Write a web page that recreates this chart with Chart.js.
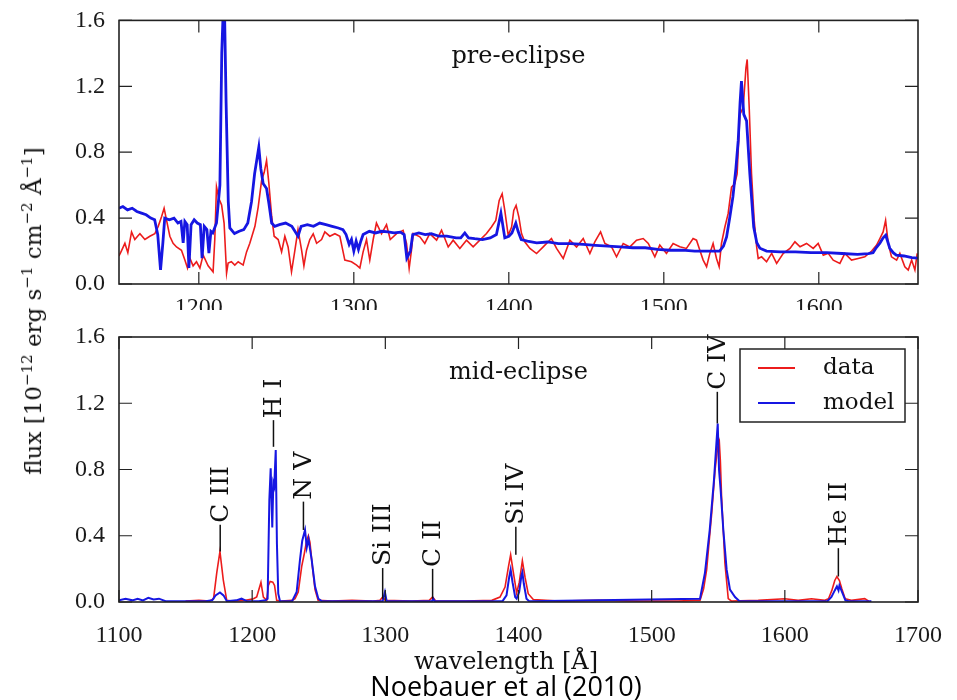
<!DOCTYPE html>
<html>
<head>
<meta charset="utf-8">
<script src="https://cdn.jsdelivr.net/npm/chart.js@4.4.1/dist/chart.umd.min.js"></script>
<style>
  body { margin: 0; background: #fff; }
  #wrap { position: relative; width: 957px; height: 700px; overflow: hidden; background: #fff; }
  canvas { position: absolute; left: 0; }
  .ylab { position: absolute; left: 33px; top: 311px; transform: translate(-50%, -50%) rotate(-90deg);
          white-space: nowrap; font: 23px "DejaVu Serif"; color: #111; }
  .ylab sup { font-size: 15px; vertical-align: 9px; line-height: 0; }
  .xlab { position: absolute; left: 506px; top: 661px; transform: translate(-50%, -50%);
          white-space: nowrap; font: 24px "DejaVu Serif"; color: #111; }
  .cap { position: absolute; left: 506px; top: 685px; transform: translate(-50%, -50%);
         white-space: nowrap; font: 27px "Open Sans"; color: #000; }
</style>
</head>
<body>
<div id="wrap">
  <canvas id="pre" width="957" height="310" style="top:0"></canvas>
  <canvas id="mid" width="957" height="390" style="top:310px"></canvas>
  <div class="ylab">flux [10<sup>−12</sup> erg s<sup>−1</sup> cm<sup>−2</sup> Å<sup>−1</sup>]</div>
  <div class="xlab">wavelength [Å]</div>
  <div class="cap">Noebauer et al (2010)</div>
</div>
<script>
// tick values
const preTicks = [1200, 1300, 1400, 1500, 1600];
const midTicks = [1100, 1200, 1300, 1400, 1500, 1600, 1700];
const fluxTicks = [0, 0.4, 0.8, 1.2, 1.6];

// pre-eclipse: observed spectrum
const preDataWave = [1148.5,1150,1152.3,1154.2,1156.6,1158.7,1160.5,1162,1165.2,1168.4,1171.6,1173.8,1176,1177.6,1179.2,1181.3,1183.4,1185.6,1188.8,1191,1192.7,1194.2,1196.3,1198.5,1200.7,1202.8,1206,1209.2,1210.3,1211.4,1212.9,1214.7,1216.3,1217.9,1218.9,1221,1223.2,1225.4,1228.6,1230.8,1232.9,1236.2,1238.3,1240.5,1242.2,1243.7,1245.2,1247,1248.6,1251.2,1253.4,1255.5,1257.6,1259.8,1262,1264,1266.3,1267.8,1269.5,1271.6,1273.8,1276,1279.2,1281.3,1284.5,1287.8,1291,1294.2,1298.5,1301.8,1303.9,1306,1308.2,1310.3,1312.5,1314.6,1317.9,1321.1,1323.5,1327.6,1331.8,1334,1335.7,1337.2,1338.3,1342.6,1345.8,1349,1353.4,1356.6,1360.9,1364.1,1368.4,1372.7,1377,1381.3,1385.6,1388.8,1391.6,1393.8,1395.7,1397.4,1399.6,1401.8,1403.2,1404.7,1406.5,1408.2,1410.3,1413.6,1417.9,1422.2,1427.5,1430.8,1435.1,1439.4,1443.7,1448,1452.3,1455.5,1459.2,1462,1466.3,1469.5,1473.8,1478.1,1482.4,1486.7,1490,1494.2,1497.4,1501.7,1506,1510.3,1514.6,1518.9,1521.1,1523.2,1525.4,1527.6,1529.7,1531.8,1534,1535.7,1537.2,1539.4,1541.5,1543.7,1545.8,1547.3,1549.1,1551.2,1553,1553.8,1555.1,1556.6,1558.3,1559.9,1560.9,1563.1,1566.3,1569.6,1572.8,1577.1,1581.4,1584.6,1587.9,1592.1,1596.4,1599.6,1602.9,1606.1,1609.3,1613.6,1616.8,1621.1,1625.4,1629.7,1634.1,1637.3,1639.4,1641.5,1643.1,1644.8,1646.9,1650.2,1652.3,1655.5,1657.7,1659.9,1662,1663.5];
const preDataFlux = [0.17,0.2,0.247,0.19,0.316,0.27,0.29,0.305,0.27,0.29,0.305,0.35,0.41,0.46,0.386,0.29,0.247,0.225,0.205,0.145,0.097,0.157,0.11,0.135,0.097,0.175,0.11,0.074,0.27,0.59,0.52,0.48,0.37,0.066,0.127,0.135,0.115,0.135,0.115,0.195,0.247,0.35,0.467,0.628,0.678,0.75,0.61,0.41,0.29,0.27,0.195,0.29,0.225,0.074,0.205,0.33,0.205,0.11,0.205,0.27,0.305,0.247,0.27,0.316,0.29,0.305,0.29,0.145,0.135,0.115,0.097,0.195,0.27,0.145,0.27,0.37,0.305,0.36,0.27,0.306,0.326,0.246,0.095,0.206,0.306,0.286,0.246,0.306,0.266,0.326,0.225,0.266,0.216,0.266,0.225,0.266,0.306,0.346,0.386,0.507,0.548,0.447,0.296,0.346,0.447,0.477,0.406,0.306,0.256,0.216,0.185,0.225,0.276,0.216,0.155,0.266,0.225,0.276,0.185,0.256,0.316,0.246,0.225,0.165,0.246,0.225,0.266,0.276,0.246,0.165,0.236,0.186,0.246,0.226,0.216,0.276,0.266,0.206,0.145,0.105,0.186,0.246,0.155,0.105,0.246,0.346,0.427,0.588,0.608,0.668,1.03,1.07,1.312,1.363,1.07,0.668,0.386,0.226,0.155,0.165,0.135,0.186,0.125,0.186,0.216,0.256,0.226,0.246,0.216,0.246,0.175,0.186,0.145,0.125,0.186,0.145,0.155,0.165,0.2,0.236,0.276,0.316,0.386,0.246,0.165,0.145,0.186,0.105,0.085,0.145,0.085,0.186];

// pre-eclipse: model spectrum
const preModelWave = [1148.5,1151,1154,1157,1160,1163,1166,1169,1171.5,1173.5,1175.3,1176.8,1178,1181,1184,1186.5,1188.5,1189.9,1191,1192.5,1193.6,1195,1197,1199,1201,1202.1,1203.5,1205.2,1206.5,1207.8,1209,1211.4,1213.6,1214.8,1215.7,1216.6,1217.6,1219,1220,1223,1226,1229,1231.6,1234,1236,1238.7,1240,1241.5,1243.7,1245.2,1247,1249,1252,1256,1260,1264,1266,1270,1274,1278,1282,1286,1290,1293,1295,1297,1298.5,1300,1301.5,1303,1304.5,1306,1310,1314,1318,1322,1326,1330,1332.5,1334.2,1336.5,1338,1342,1346,1350,1355,1360,1366,1369,1371.6,1374,1378,1383,1388,1392,1394.9,1397.4,1400,1402,1404.5,1406,1408,1412,1418,1425,1432,1440,1448,1456,1464,1472,1480,1488,1496,1504,1512,1520,1528,1536,1538.5,1540.5,1542.5,1544.6,1546.5,1548,1549.2,1550.1,1551.6,1553.4,1555.5,1558,1560,1562,1566.3,1575,1585,1595,1605,1615,1625,1632,1635,1637,1639.4,1641.5,1643.2,1645.8,1648,1650,1655,1660,1664];
const preModelFlux = [0.46,0.47,0.45,0.46,0.44,0.43,0.42,0.4,0.39,0.3,0.085,0.25,0.4,0.39,0.4,0.37,0.38,0.25,0.38,0.36,0.097,0.36,0.39,0.37,0.36,0.157,0.35,0.33,0.187,0.32,0.31,0.37,0.6,1.4,1.65,1.65,1.1,0.5,0.34,0.306,0.32,0.33,0.37,0.5,0.67,0.83,0.7,0.61,0.58,0.49,0.37,0.35,0.36,0.37,0.35,0.29,0.35,0.36,0.35,0.37,0.36,0.35,0.34,0.33,0.3,0.24,0.27,0.2,0.26,0.21,0.26,0.3,0.32,0.31,0.32,0.316,0.31,0.315,0.3,0.157,0.2,0.3,0.31,0.3,0.305,0.29,0.29,0.28,0.28,0.31,0.28,0.275,0.27,0.28,0.3,0.43,0.28,0.29,0.31,0.37,0.32,0.27,0.26,0.25,0.255,0.245,0.245,0.24,0.235,0.23,0.225,0.22,0.22,0.21,0.205,0.205,0.2,0.2,0.2,0.23,0.286,0.4,0.53,0.7,0.87,1.1,1.232,1.03,0.99,0.67,0.346,0.25,0.217,0.2,0.195,0.195,0.19,0.19,0.185,0.18,0.185,0.19,0.22,0.247,0.28,0.296,0.217,0.19,0.175,0.17,0.16,0.157];

// mid-eclipse: observed spectrum
const midDataWave = [1150,1160,1168,1171,1173.4,1175.8,1178.3,1180.9,1186,1195,1201,1203.4,1206.6,1208.4,1210.9,1212.2,1213.5,1215.5,1216.8,1218.4,1222,1230,1232.2,1234.6,1237.2,1239.1,1240.9,1242.2,1243.4,1245.2,1247.2,1249.5,1260,1275,1290,1296,1298,1300,1320,1333,1335.5,1338,1360,1380,1386.1,1389.9,1392.4,1394.1,1396.1,1398.6,1400.6,1402.9,1404.9,1407.3,1411.1,1430,1460,1490,1520,1533,1536.3,1539,1541.3,1543,1545.1,1547.6,1549.5,1550.8,1551.6,1552.5,1555,1557.5,1560,1580,1600,1610,1620,1630,1632.8,1635.3,1637.5,1639.1,1641,1642.8,1645.3,1650,1660,1663];
const midDataFlux = [0.005,0.01,0.005,0.02,0.176,0.305,0.134,0.01,0.005,0.01,0.02,0.03,0.118,0.03,0.01,0.1,0.124,0.12,0.1,0.01,0.005,0.01,0.02,0.06,0.215,0.29,0.37,0.4,0.36,0.215,0.075,0.01,0.005,0.01,0.005,0.01,0.03,0.01,0.005,0.01,0.03,0.005,0.005,0.01,0.03,0.09,0.21,0.285,0.18,0.054,0.12,0.249,0.15,0.05,0.015,0.005,0.01,0.005,0.005,0.01,0.01,0.08,0.195,0.35,0.536,0.797,0.93,0.967,0.85,0.636,0.236,0.02,0.005,0.01,0.02,0.01,0.02,0.01,0.02,0.07,0.13,0.154,0.13,0.08,0.02,0.01,0.02,0.005];

// mid-eclipse: model spectrum
const midModelWave = [1100,1105,1110,1114,1118,1122,1126,1130,1135,1150,1165,1170,1172.5,1175.8,1178.5,1181,1188,1192,1196,1205,1210,1211.6,1212.9,1213.9,1215.1,1215.9,1216.6,1217.7,1218.6,1219.6,1220.9,1230,1233.4,1235.9,1237.6,1239.7,1241,1242.3,1244.7,1247.2,1249.7,1252.2,1298,1299.7,1301,1335,1336,1337,1388,1391,1393,1394.1,1395.5,1397.5,1398.6,1400.5,1402.2,1402.9,1404,1406,1408,1536.3,1540,1543.6,1546.8,1549.6,1550.6,1551.8,1553.8,1556.3,1558.8,1562.6,1566,1632,1635,1637.5,1639.1,1640.3,1641,1643,1645.5,1648,1665];
const midModelFlux = [0.01,0.02,0.01,0.02,0.01,0.025,0.015,0.02,0.005,0.005,0.005,0.01,0.04,0.058,0.04,0.005,0.01,0.02,0.005,0.005,0.01,0.02,0.616,0.807,0.45,0.72,0.7,0.917,0.35,0.05,0.005,0.005,0.06,0.255,0.37,0.435,0.33,0.38,0.255,0.095,0.02,0.005,0.005,0.06,0.005,0.005,0.02,0.005,0.005,0.04,0.15,0.195,0.12,0.03,0.02,0.06,0.16,0.18,0.11,0.02,0.005,0.02,0.175,0.436,0.737,1.078,0.797,0.676,0.436,0.195,0.075,0.03,0.005,0.005,0.03,0.07,0.094,0.07,0.1,0.06,0.01,0.005,0.005];

// line identifications in the mid-eclipse panel
const lineNames = ['C III', 'H I', 'N V', 'Si III', 'C II', 'Si IV', 'C IV', 'He II'];
const lineWaves = [1176, 1216, 1238.5, 1298, 1335.5, 1398, 1549.3, 1640.2];
const lineFrom = [0.305, 0.937, 0.435, 0.02, 0.02, 0.285, 1.078, 0.154];
const lineTo = [0.466, 1.098, 0.606, 0.205, 0.2, 0.455, 1.269, 0.325];

const RED = '#ec1c1c';
const BLUE = '#1616e2';

Chart.defaults.font.family = '"Liberation Serif"';
Chart.defaults.color = '#1a1a1a';

function pts(w, f) {
    return w.map((x, i) => ({ x: x, y: f[i] }));
}

// frame, inward ticks and panel label
const framePlugin = {
    id: 'frame',
    afterDraw(chart, args, opts) {
        const ctx = chart.ctx, a = chart.chartArea, sx = chart.scales.x, sy = chart.scales.y;
        ctx.save();
        ctx.strokeStyle = '#222';
        ctx.lineWidth = 1.2;
        ctx.beginPath();
        sx.ticks.forEach(t => {
            const px = sx.getPixelForValue(t.value);
            ctx.moveTo(px, a.bottom); ctx.lineTo(px, a.bottom - 12);
            ctx.moveTo(px, a.top); ctx.lineTo(px, a.top + 12);
        });
        sy.ticks.forEach(t => {
            const py = sy.getPixelForValue(t.value);
            ctx.moveTo(a.left, py); ctx.lineTo(a.left + 13, py);
            ctx.moveTo(a.right, py); ctx.lineTo(a.right - 13, py);
        });
        ctx.stroke();
        ctx.lineWidth = 1.6;
        ctx.strokeRect(a.left, a.top, a.right - a.left, a.bottom - a.top);
        ctx.fillStyle = '#111';
        ctx.font = '24px "DejaVu Serif"';
        ctx.textAlign = 'center';
        ctx.textBaseline = 'middle';
        ctx.fillText(opts.label, (a.left + a.right) / 2, a.top + 36);
        ctx.restore();
    }
};

// line markers with rotated names
const linePlugin = {
    id: 'lineIds',
    afterDatasetsDraw(chart) {
        const ctx = chart.ctx, sx = chart.scales.x, sy = chart.scales.y;
        ctx.save();
        ctx.strokeStyle = '#111';
        ctx.fillStyle = '#111';
        ctx.lineWidth = 1.5;
        ctx.font = '25px "DejaVu Serif"';
        lineNames.forEach((name, i) => {
            const px = sx.getPixelForValue(lineWaves[i]);
            const y0 = sy.getPixelForValue(lineFrom[i]);
            const y1 = sy.getPixelForValue(lineTo[i]);
            ctx.beginPath();
            ctx.moveTo(px, y0);
            ctx.lineTo(px, y1);
            ctx.stroke();
            ctx.save();
            ctx.translate(px, y1 - 2);
            ctx.rotate(-Math.PI / 2);
            ctx.textAlign = 'left';
            ctx.textBaseline = 'middle';
            ctx.fillText(name, 0, 1);
            ctx.restore();
        });
        ctx.restore();
    }
};

// boxed legend in the upper right of the lower panel
const legendPlugin = {
    id: 'boxLegend',
    afterDraw(chart) {
        const ctx = chart.ctx, a = chart.chartArea;
        const left = a.right - 178, top = a.top + 12;
        ctx.save();
        ctx.fillStyle = '#fff';
        ctx.fillRect(left, top, 165, 73);
        ctx.strokeStyle = '#222';
        ctx.lineWidth = 1.5;
        ctx.strokeRect(left, top, 165, 73);
        ctx.lineWidth = 1.8;
        ctx.strokeStyle = RED;
        ctx.beginPath(); ctx.moveTo(left + 18, top + 19); ctx.lineTo(left + 55, top + 19); ctx.stroke();
        ctx.strokeStyle = BLUE;
        ctx.beginPath(); ctx.moveTo(left + 18, top + 54); ctx.lineTo(left + 55, top + 54); ctx.stroke();
        ctx.fillStyle = '#111';
        ctx.font = '23px "DejaVu Serif"';
        ctx.textBaseline = 'middle';
        ctx.fillText('data', left + 83, top + 19);
        ctx.fillText('model', left + 83, top + 54);
        ctx.restore();
    }
};

function panel(canvas, cfg) {
    return new Chart(canvas, {
        type: 'line',
        data: {
            datasets: [
                { label: 'data', data: cfg.data, borderColor: RED, borderWidth: 1.6, pointRadius: 0, order: 1, tension: 0 },
                { label: 'model', data: cfg.model, borderColor: BLUE, borderWidth: cfg.blueWidth, pointRadius: 0, order: 0, tension: 0 }
            ]
        },
        options: {
            responsive: false,
            animation: false,
            events: [],
            layout: { padding: { top: cfg.top, right: 39, left: 0, bottom: 0 } },
            scales: {
                x: {
                    type: 'linear', min: cfg.xmin, max: cfg.xmax,
                    afterBuildTicks: s => { s.ticks = cfg.ticks.map(v => ({ value: v })); },
                    afterFit: s => { s.height = cfg.axisH; },
                    grid: { display: false }, border: { display: false },
                    ticks: { padding: cfg.xpad, maxRotation: 0, autoSkip: false, font: { size: 24 },
                             callback: v => String(v) }
                },
                y: {
                    min: 0, max: 1.6,
                    afterBuildTicks: s => { s.ticks = fluxTicks.map(v => ({ value: v })); },
                    afterFit: s => { s.width = 119; },
                    grid: { display: false }, border: { display: false },
                    ticks: { padding: 6, font: { size: 24 }, callback: v => Number(v).toFixed(1) }
                }
            },
            plugins: {
                legend: { display: false },
                tooltip: { enabled: false },
                frame: { label: cfg.label }
            }
        },
        plugins: cfg.plugins
    });
}

panel(document.getElementById('pre'), {
    data: pts(preDataWave, preDataFlux), model: pts(preModelWave, preModelFlux),
    xmin: 1148.5, xmax: 1664, ticks: preTicks, top: 19, axisH: 26, xpad: 1,
    blueWidth: 2.8, label: 'pre-eclipse', plugins: [framePlugin]
});

panel(document.getElementById('mid'), {
    data: pts(midDataWave, midDataFlux), model: pts(midModelWave, midModelFlux),
    xmin: 1100, xmax: 1700, ticks: midTicks, top: 27, axisH: 98, xpad: 11,
    blueWidth: 2, label: 'mid-eclipse', plugins: [linePlugin, framePlugin, legendPlugin]
});
</script>
</body>
</html>
